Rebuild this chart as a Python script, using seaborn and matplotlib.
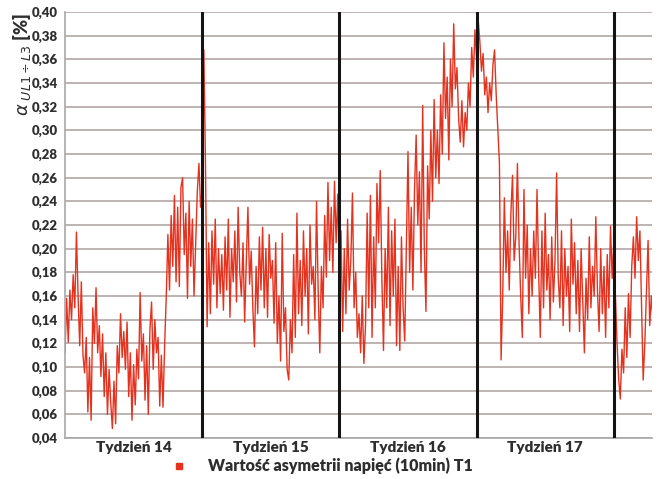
import numpy as np
import pandas as pd
import matplotlib
matplotlib.use("Agg")
import matplotlib.pyplot as plt
import seaborn as sns
from matplotlib.lines import Line2D

# ---- data: 10-min voltage asymmetry, sampled every 2 h (12 samples per day) ----
week14 = [0.112, 0.158, 0.121, 0.165, 0.140, 0.178, 0.150, 0.214, 0.160, 0.118, 0.172, 0.110,
          0.095, 0.125, 0.062, 0.108, 0.055, 0.150, 0.120, 0.167, 0.112, 0.135, 0.092, 0.128,
          0.075, 0.112, 0.060, 0.098, 0.070, 0.048, 0.088, 0.052, 0.118, 0.095, 0.145, 0.108,
          0.130, 0.098, 0.138, 0.075, 0.112, 0.055, 0.102, 0.068, 0.115, 0.090, 0.163, 0.105,
          0.128, 0.072, 0.118, 0.060, 0.132, 0.155, 0.098, 0.140, 0.112, 0.125, 0.067, 0.110,
          0.066, 0.118, 0.160, 0.212, 0.165, 0.228, 0.185, 0.245, 0.172, 0.235, 0.168, 0.252,
          0.260, 0.195, 0.230, 0.158, 0.240, 0.185, 0.225, 0.160, 0.205, 0.248, 0.272, 0.235]
week15 = [0.250, 0.368, 0.272, 0.134, 0.205, 0.145, 0.215, 0.170, 0.225, 0.150, 0.200, 0.162,
          0.195, 0.148, 0.210, 0.165, 0.225, 0.142, 0.200, 0.172, 0.215, 0.155, 0.235, 0.180,
          0.160, 0.205, 0.138, 0.190, 0.235, 0.170, 0.198, 0.150, 0.117, 0.185, 0.145, 0.210,
          0.165, 0.218, 0.150, 0.200, 0.142, 0.212, 0.175, 0.190, 0.137, 0.205, 0.120, 0.160,
          0.105, 0.213, 0.130, 0.150, 0.098, 0.089, 0.140, 0.112, 0.195, 0.125, 0.230, 0.145,
          0.190, 0.135, 0.215, 0.160, 0.200, 0.128, 0.220, 0.170, 0.185, 0.140, 0.240, 0.165,
          0.112, 0.185, 0.150, 0.228, 0.176, 0.256, 0.190, 0.235, 0.180, 0.257, 0.205, 0.246]
week16 = [0.175, 0.215, 0.130, 0.200, 0.145, 0.225, 0.165, 0.190, 0.247, 0.150, 0.180, 0.125,
          0.145, 0.112, 0.160, 0.103, 0.135, 0.230, 0.150, 0.245, 0.125, 0.210, 0.150, 0.255,
          0.205, 0.266, 0.175, 0.114, 0.200, 0.150, 0.235, 0.135, 0.215, 0.160, 0.225, 0.118,
          0.185, 0.114, 0.210, 0.150, 0.122, 0.200, 0.282, 0.180, 0.235, 0.165, 0.250, 0.296,
          0.220, 0.265, 0.180, 0.321, 0.200, 0.147, 0.270, 0.225, 0.300, 0.240, 0.326, 0.260,
          0.300, 0.255, 0.330, 0.280, 0.374, 0.310, 0.345, 0.275, 0.360, 0.320, 0.390, 0.335,
          0.353, 0.310, 0.290, 0.325, 0.286, 0.315, 0.300, 0.340, 0.320, 0.370, 0.345, 0.385]
week17 = [0.360, 0.393, 0.375, 0.350, 0.365, 0.330, 0.345, 0.315, 0.340, 0.325, 0.355, 0.368,
          0.330, 0.300, 0.272, 0.106, 0.160, 0.243, 0.180, 0.215, 0.165, 0.230, 0.262, 0.190,
          0.210, 0.272, 0.205, 0.160, 0.125, 0.250, 0.175, 0.220, 0.145, 0.200, 0.160, 0.215,
          0.175, 0.250, 0.180, 0.125, 0.215, 0.150, 0.230, 0.165, 0.195, 0.140, 0.210, 0.155,
          0.190, 0.264, 0.175, 0.150, 0.215, 0.135, 0.200, 0.160, 0.185, 0.130, 0.225, 0.170,
          0.205, 0.145, 0.190, 0.130, 0.200, 0.155, 0.112, 0.175, 0.140, 0.210, 0.150, 0.185,
          0.160, 0.227, 0.165, 0.130, 0.200, 0.145, 0.185, 0.125, 0.195, 0.150, 0.219, 0.175]
week18 = [0.205, 0.160, 0.120, 0.090, 0.073, 0.115, 0.095, 0.150, 0.108, 0.162, 0.125, 0.185,
          0.210, 0.175, 0.227, 0.190, 0.215, 0.150, 0.089, 0.120, 0.165, 0.207, 0.135, 0.160,
          0.140]

week_labels = ["Tydzień 14", "Tydzień 15", "Tydzień 16", "Tydzień 17"]
week_bounds = [7, 14, 21, 28]
y_ticks = [0.04, 0.06, 0.08, 0.10, 0.12, 0.14, 0.16, 0.18, 0.20, 0.22,
           0.24, 0.26, 0.28, 0.30, 0.32, 0.34, 0.36, 0.38, 0.40]
series_name = "Wartość asymetrii napięć (10min) T1"
samples_per_day = 12

values = week14 + week15 + week16 + week17 + week18
df = pd.DataFrame({"t": np.arange(len(values)) / samples_per_day, "v": values})

# ---- style ----
sns.set_style("white")
plt.rcParams["font.family"] = ["Lato", "DejaVu Sans"]
TXT = "#2e2e2e"
RED = "#e4321f"

fig = plt.figure(figsize=(6.7, 4.79), dpi=100)
ax = fig.add_axes([65 / 670, 1 - 438 / 479, 587 / 670, 426 / 479])

sns.lineplot(data=df, x="t", y="v", ax=ax, color=RED, lw=1.0, legend=False)

ax.set_xlim(0, 29.95)
ax.set_ylim(0.04, 0.40)

ax.set_yticks(y_ticks)
ax.set_yticklabels([f"{t:.2f}".replace(".", ",") for t in y_ticks],
                   fontsize=9.5, fontweight="heavy", color=TXT)
ax.tick_params(axis="y", length=0, pad=5)
ax.grid(axis="y", color="#bcb4b2", lw=1.4)
ax.set_axisbelow(True)

for b in week_bounds:
    ax.axvline(b, color="#141414", lw=2.2, zorder=3)

ax.set_xticks(week_bounds)
ax.set_xticklabels([])
ax.tick_params(axis="x", which="major", length=8, width=2.2, color="#141414", direction="out")
ax.set_xticks([b - 3.5 for b in week_bounds], minor=True)
ax.set_xticklabels(week_labels, minor=True, fontsize=11, fontweight="heavy", color=TXT)
ax.tick_params(axis="x", which="minor", length=0, pad=2)

ax.set_xlabel("")
ax.set_ylabel("")
for s in ["top", "right"]:
    ax.spines[s].set_visible(False)
for s in ["left", "bottom"]:
    ax.spines[s].set_color("#a8a8a8")
    ax.spines[s].set_linewidth(1.2)

fig.text(22 / 670, 1 - 13 / 479, r"$\alpha_{\ UL1\div L3}$ [%]", rotation=90,
         ha="center", va="top", fontsize=13, fontweight="heavy", color=TXT)

handle = Line2D([], [], color=RED, marker="s", linestyle="none", markersize=4.5)
leg = fig.legend([handle], [series_name], loc="center",
                 bbox_to_anchor=(318 / 670, 1 - 466 / 479), frameon=False,
                 prop={"size": 11.5, "weight": "heavy"}, handletextpad=0.8)
for t in leg.get_texts():
    t.set_color(TXT)

fig.savefig("out.png", dpi=100, facecolor="white")
